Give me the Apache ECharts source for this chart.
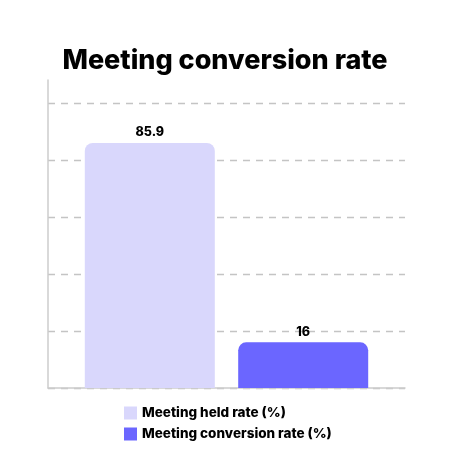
<!DOCTYPE html>
<html><head><meta charset="utf-8">
<script src="https://cdn.jsdelivr.net/npm/echarts@6/dist/echarts.min.js"></script>
<style>html,body{margin:0;padding:0;background:#fff}#c{width:450px;height:450px}</style>
</head><body><div id="c"></div>
<script>
const categories = ['Meeting conversion rate'];
const seriesNames = ['Meeting held rate (%)', 'Meeting conversion rate (%)'];
const heldRate = [85.9];
const conversionRate = [16];
const colors = ['#D9D7FC', '#6B66FF'];
const FONT = 'Inter';

const chart = echarts.init(document.getElementById('c'), null, {renderer: 'canvas'});
const values = [heldRate, conversionRate];
chart.setOption({
  animation: false,
  title: {
    text: 'Meeting conversion rate', left: 'center', top: 42,
    textStyle: {fontFamily: FONT, fontWeight: 800, fontSize: 27, color: '#000'}
  },
  legend: {
    orient: 'vertical', left: 119, top: 401, itemWidth: 13, itemHeight: 13, itemGap: 7,
    icon: 'rect',
    textStyle: {fontFamily: FONT, fontWeight: 800, fontSize: 13.5, color: '#000'},
    data: seriesNames
  },
  grid: {left: 48, right: 45, top: 80, bottom: 62, containLabel: false},
  xAxis: {
    type: 'category', data: categories,
    axisLine: {show: true, lineStyle: {color: '#cccccc', width: 1.5}},
    axisTick: {show: false}, axisLabel: {show: false}
  },
  yAxis: {
    type: 'value', min: 0, max: 108, interval: 20,
    axisLine: {show: true, lineStyle: {color: '#cccccc', width: 1.5}},
    axisTick: {show: false}, axisLabel: {show: false},
    splitLine: {show: true, showMaxLine: false, lineStyle: {color: '#c4c4c4', type: [7, 6], width: 1.4}}
  },
  series: seriesNames.map((n, i) => ({
    name: n, type: 'bar', data: values[i], barWidth: 130, barGap: '18%',
    itemStyle: {color: colors[i], borderRadius: [8, 8, 0, 0]},
    label: {show: true, position: 'top', distance: 4, fontFamily: FONT, fontWeight: 800, fontSize: 12.5, color: '#000'}
  }))
});
</script></body></html>
